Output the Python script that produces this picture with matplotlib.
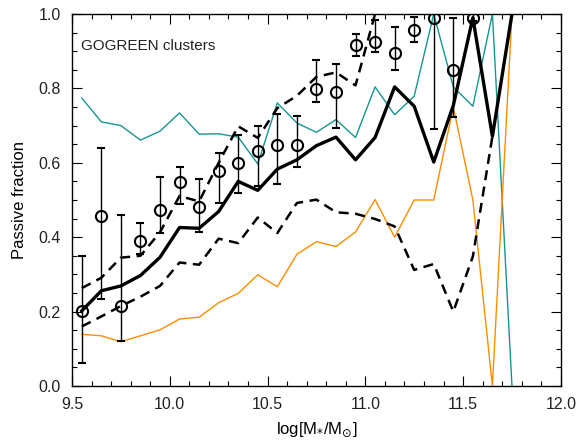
import matplotlib
matplotlib.use('Agg')
import matplotlib.pyplot as plt
from matplotlib.ticker import MultipleLocator

# bin centres in log stellar mass
mass = [9.55, 9.65, 9.75, 9.85, 9.95, 10.05, 10.15, 10.25, 10.35, 10.45, 10.55,
        10.65, 10.75, 10.85, 10.95, 11.05, 11.15, 11.25, 11.35, 11.45, 11.55,
        11.65, 11.75]

# GOGREEN cluster measurements (bins 9.55 .. 11.55)
obs_frac = [0.202, 0.456, 0.216, 0.39, 0.474, 0.548, 0.48, 0.577, 0.599, 0.631,
            0.647, 0.649, 0.799, 0.79, 0.916, 0.925, 0.895, 0.956, 0.99, 0.85, 0.99]
obs_hi = [0.35, 0.64, 0.46, 0.438, 0.562, 0.59, 0.557, 0.625, 0.676, 0.698,
          0.731, 0.727, 0.875, 0.866, 0.947, 0.983, 0.964, 0.993, 1.0, 0.99, 1.0]
obs_lo = [0.062, 0.233, 0.122, 0.355, 0.411, 0.49, 0.414, 0.492, 0.52, 0.538,
          0.543, 0.588, 0.763, 0.694, 0.888, 0.897, 0.849, 0.924, 0.692, 0.722, 0.98]

# model passive fraction and its spread
model = [0.202, 0.256, 0.269, 0.297, 0.346, 0.426, 0.424, 0.469, 0.55, 0.526,
         0.583, 0.608, 0.646, 0.669, 0.608, 0.668, 0.804, 0.752, 0.602, 0.754,
         0.99, 0.671, 1.0]
model_up = [0.263, 0.291, 0.345, 0.35, 0.413, 0.511, 0.496, 0.60, 0.698, 0.667,
            0.747, 0.78, 0.831, 0.843, 0.808, 1.0]
model_dn = [0.16, 0.187, 0.215, 0.24, 0.269, 0.332, 0.326, 0.396, 0.384, 0.453,
            0.411, 0.492, 0.501, 0.467, 0.463, 0.449, 0.429, 0.312, 0.328, 0.2,
            0.348, 0.671]

teal_frac = [0.774, 0.71, 0.70, 0.661, 0.685, 0.734, 0.677, 0.678, 0.669, 0.597,
             0.761, 0.707, 0.682, 0.716, 0.668, 0.804, 0.729, 0.779, 1.0, 0.804,
             0.752, 1.0, 0.0]
orange_frac = [0.139, 0.135, 0.119, 0.135, 0.151, 0.18, 0.185, 0.224, 0.249, 0.299,
               0.267, 0.354, 0.388, 0.375, 0.414, 0.501, 0.40, 0.50, 0.50, 0.75,
               0.50, 0.0, 1.0]

plt.rcParams['font.family'] = ['Liberation Sans', 'DejaVu Sans']
plt.rcParams['mathtext.fontset'] = 'dejavusans'
plt.rcParams['text.color'] = '#222222'

fig = plt.figure(figsize=(5.83, 4.41), dpi=100)
ax = fig.add_axes([0.1235, 0.1247, 0.8385, 0.8436])

ax.plot(mass, teal_frac, color='#17958f', lw=1.0, zorder=2)
ax.plot(mass, orange_frac, color='#ff8c00', lw=1.0, zorder=2)
ax.plot(mass, model, color='black', lw=2.4, zorder=3)
ax.plot(mass[:len(model_up)], model_up, color='black', lw=1.8, dashes=(4.0, 2.6), zorder=3)
ax.plot(mass[:len(model_dn)], model_dn, color='black', lw=1.8, dashes=(4.0, 2.6), zorder=3)

n = len(obs_frac)
yerr = [[f - lo for f, lo in zip(obs_frac, obs_lo)],
        [hi - f for f, hi in zip(obs_frac, obs_hi)]]
ax.errorbar(mass[:n], obs_frac, yerr=yerr, fmt='o', ms=8, mfc='none', mec='black',
            mew=1.5, ecolor='black', elinewidth=1.0, capsize=3, capthick=1.0,
            zorder=4)

ax.set_xlim(9.5, 12.0)
ax.set_ylim(0.0, 1.0)
ax.xaxis.set_major_locator(MultipleLocator(0.5))
ax.xaxis.set_minor_locator(MultipleLocator(0.1))
ax.yaxis.set_major_locator(MultipleLocator(0.2))
ax.yaxis.set_minor_locator(MultipleLocator(0.05))
ax.xaxis.set_major_formatter(plt.FormatStrFormatter('%.1f'))
ax.yaxis.set_major_formatter(plt.FormatStrFormatter('%.1f'))
ax.tick_params(which='both', direction='in', top=True, right=True, labelsize=11.5,
               width=0.8, pad=8, labelcolor='#222222')
ax.tick_params(which='major', length=7)
ax.tick_params(which='minor', length=3.5)
for s in ax.spines.values():
    s.set_linewidth(1.0)

ax.set_xlabel(r'log[M$_{*}$/M$_{\odot}$]', fontsize=12, labelpad=6)
ax.set_ylabel('Passive fraction', fontsize=12, labelpad=8)
ax.text(0.018, 0.915, 'GOGREEN clusters', transform=ax.transAxes, fontsize=11,
        va='center', ha='left')

fig.savefig('out.png', dpi=100)
